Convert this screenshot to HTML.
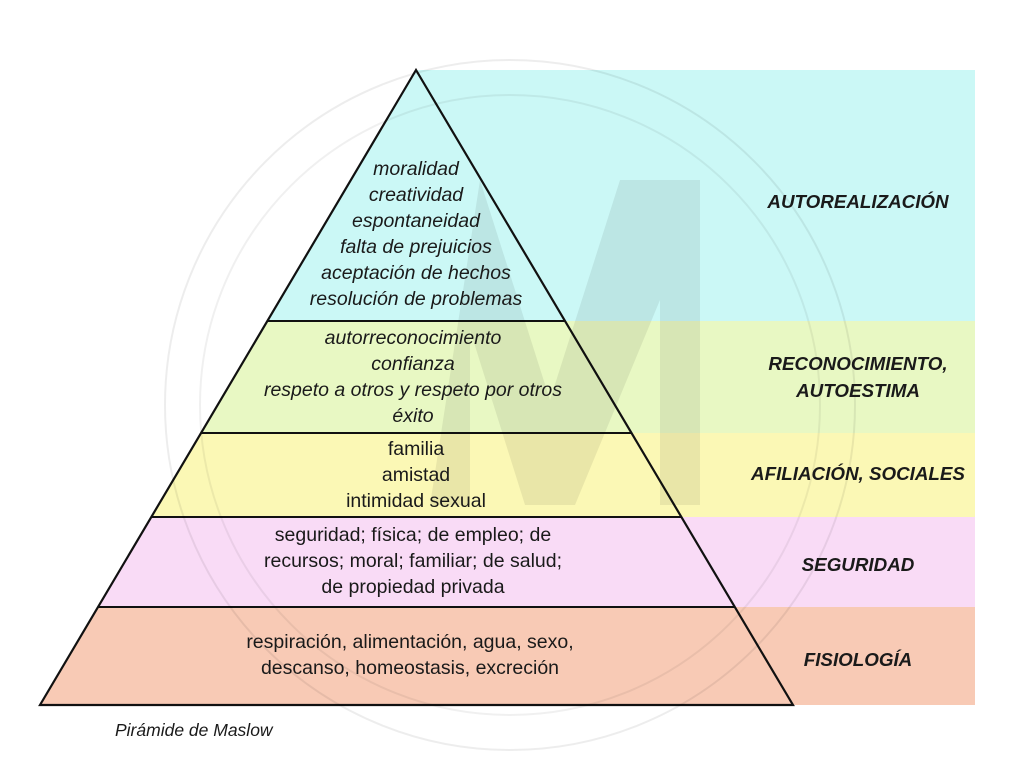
<!DOCTYPE html>
<html><head><meta charset="utf-8"><style>
html,body{margin:0;padding:0;background:#fff;width:1024px;height:774px;overflow:hidden}
svg{display:block}
text{font-family:"Liberation Sans",sans-serif;fill:#1a1a1a}
.c{font-style:italic;font-size:19.5px;text-anchor:middle}
.n{font-size:19.5px;text-anchor:middle}
.l{font-style:italic;font-weight:bold;font-size:18.8px;text-anchor:middle}
</style></head><body>
<svg width="1024" height="774" viewBox="0 0 1024 774">
<polygon points="416,70 267.4,321 975,321 975,70" fill="#cbf8f6"/>
<polygon points="267.4,321 201,433 975,433 975,321" fill="#e8f8c3"/>
<polygon points="201,433 151.3,517 975,517 975,433" fill="#fbf8b5"/>
<polygon points="151.3,517 98,607 975,607 975,517" fill="#f9dbf6"/>
<polygon points="98,607 40,705 975,705 975,607" fill="#f8cab5"/>
<polygon points="416,70 40,705 793,705" fill="none" stroke="#111" stroke-width="2.2"/>
<g stroke="#111" stroke-width="2">
<line x1="267.4" y1="321" x2="565" y2="321"/>
<line x1="201" y1="433" x2="631.5" y2="433"/>
<line x1="151.3" y1="517" x2="681" y2="517"/>
<line x1="98" y1="607" x2="735" y2="607"/>
</g>
<circle cx="510" cy="405" r="345" fill="none" stroke="#000" stroke-opacity="0.07" stroke-width="2"/>
<circle cx="510" cy="405" r="310" fill="none" stroke="#000" stroke-opacity="0.06" stroke-width="2"/>
<polygon points="430,505 480,180 550,400 620,180 700,180 700,505 660,505 660,300 575,505 525,505 470,330 470,505" fill="#000" fill-opacity="0.07"/>
<text class="c" x="416" y="175">moralidad</text>
<text class="c" x="416" y="201">creatividad</text>
<text class="c" x="416" y="227">espontaneidad</text>
<text class="c" x="416" y="253">falta de prejuicios</text>
<text class="c" x="416" y="279">aceptación de hechos</text>
<text class="c" x="416" y="305">resolución de problemas</text>
<text class="c" x="413" y="344">autorreconocimiento</text>
<text class="c" x="413" y="370">confianza</text>
<text class="c" x="413" y="396">respeto a otros y respeto por otros</text>
<text class="c" x="413" y="422">éxito</text>
<text class="n" x="416" y="455">familia</text>
<text class="n" x="416" y="481">amistad</text>
<text class="n" x="416" y="507">intimidad sexual</text>
<text class="n" x="413" y="541">seguridad; física; de empleo; de</text>
<text class="n" x="413" y="567">recursos; moral; familiar; de salud;</text>
<text class="n" x="413" y="593">de propiedad privada</text>
<text class="n" x="410" y="648">respiración, alimentación, agua, sexo,</text>
<text class="n" x="410" y="674">descanso, homeostasis, excreción</text>
<text class="l" x="858" y="208">AUTOREALIZACIÓN</text>
<text class="l" x="858" y="370">RECONOCIMIENTO,</text>
<text class="l" x="858" y="397">AUTOESTIMA</text>
<text class="l" x="858" y="480">AFILIACIÓN, SOCIALES</text>
<text class="l" x="858" y="571">SEGURIDAD</text>
<text class="l" x="858" y="666">FISIOLOGÍA</text>
<text x="115" y="736" style="font-style:italic;font-size:17.5px">Pirámide de Maslow</text>
</svg>
</body></html>
